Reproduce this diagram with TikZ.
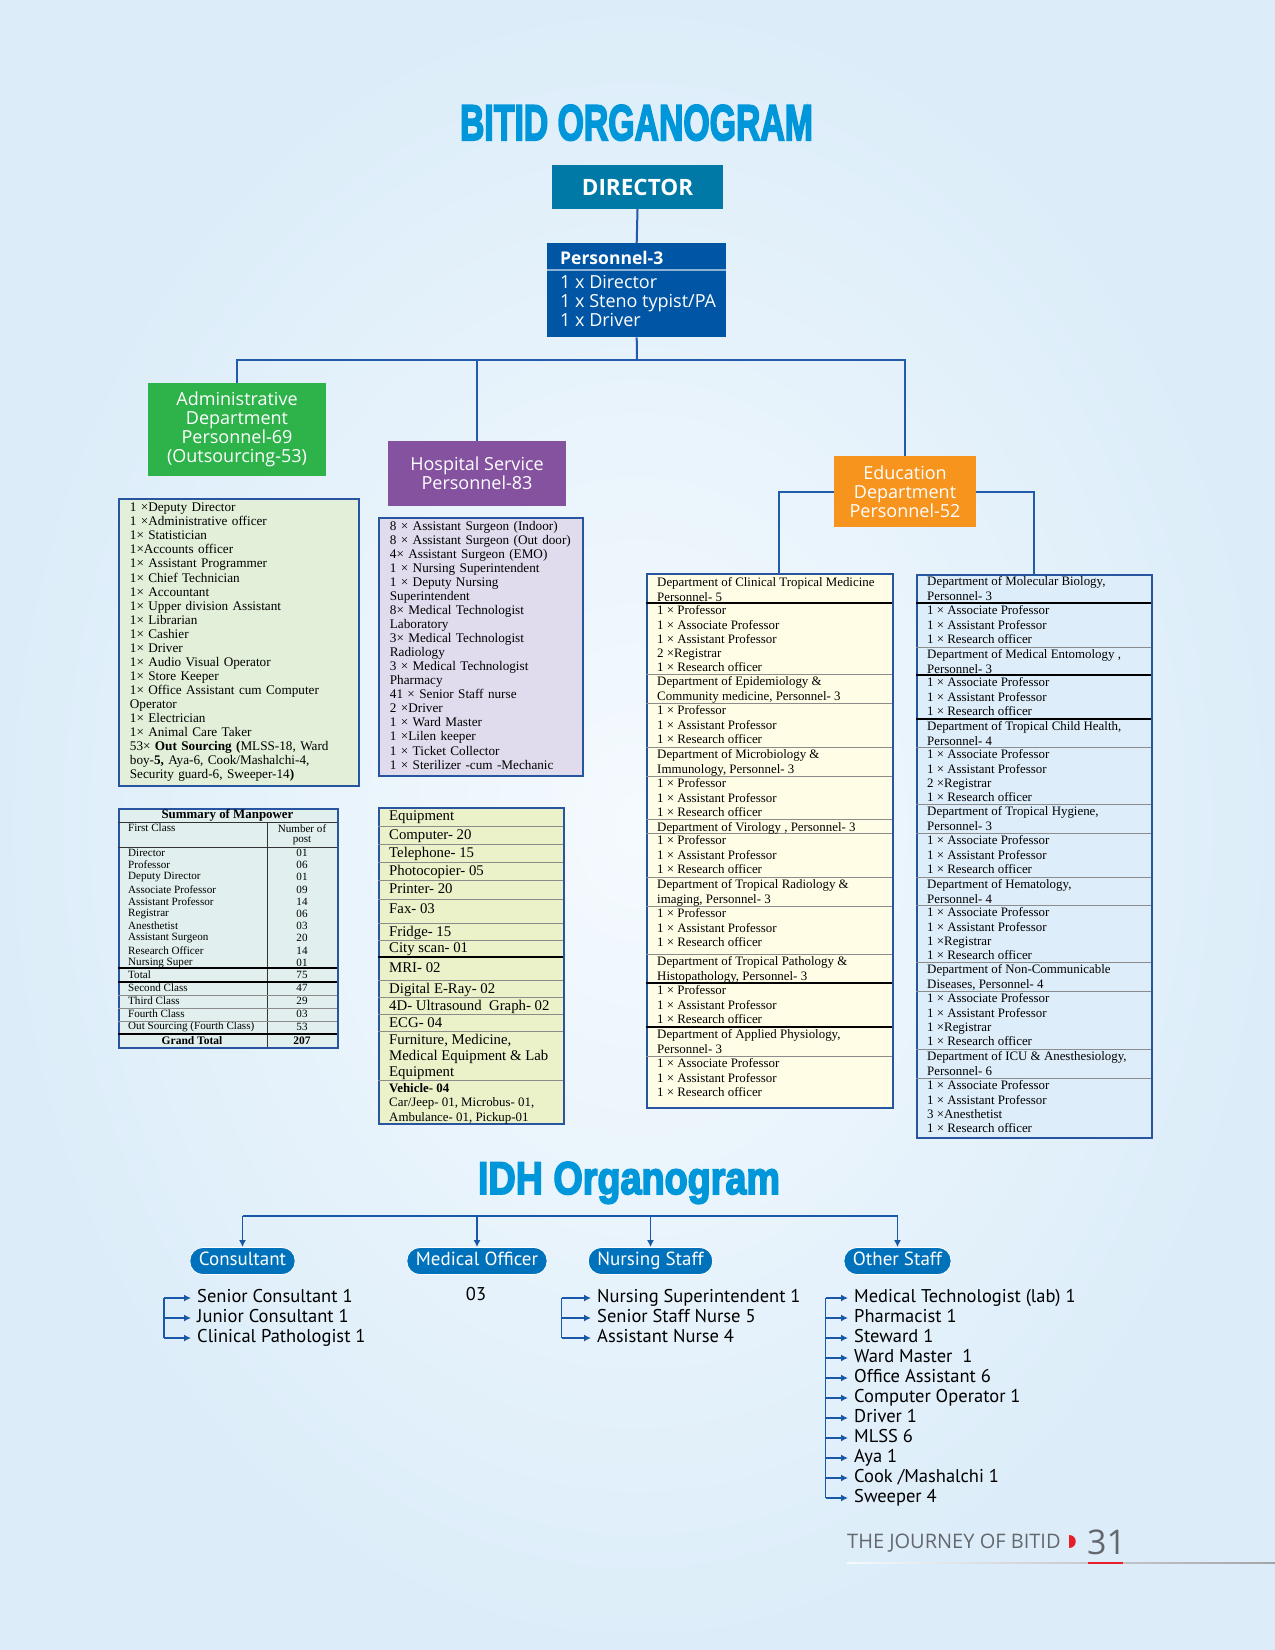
\documentclass[tikz,border=0pt]{standalone}
\usepackage{graphicx}
\usepackage{fontspec}
\setmainfont{Open Sans}
\newfontfamily\tnr{Liberation Serif}
\newfontfamily\ptsans{PT Sans}
\newfontfamily\headfont[BoldFeatures={FakeBold=4}]{Liberation Sans}
\usetikzlibrary{arrows.meta,positioning}
\definecolor{bgin}{RGB}{245,250,254}
\definecolor{bgout}{RGB}{220,237,249}
\definecolor{titleblue}{RGB}{0,150,218}
\definecolor{dirteal}{RGB}{0,121,166}
\definecolor{persblue}{RGB}{0,85,165}
\definecolor{admgreen}{RGB}{45,179,74}
\definecolor{hospurple}{RGB}{133,82,160}
\definecolor{eduorange}{RGB}{247,148,30}
\definecolor{linecol}{RGB}{32,92,170}
\definecolor{boxcol}{RGB}{40,85,160}
\definecolor{admfill}{RGB}{226,239,217}
\definecolor{hosfill}{RGB}{224,220,238}
\definecolor{sumfill}{RGB}{225,240,238}
\definecolor{eqfill}{RGB}{235,241,200}
\definecolor{clinfill}{RGB}{255,253,230}
\definecolor{molfill}{RGB}{222,237,250}
\definecolor{pillblue}{RGB}{0,114,188}
\definecolor{arrblue}{RGB}{25,88,168}
\definecolor{footgray}{RGB}{100,104,110}
\definecolor{footred}{RGB}{230,30,40}
\newcommand{\nl}{\\\strut}
\tikzset{
  orgline/.style={draw=linecol, line width=2pt},
  colbox/.style={inner sep=0pt, text=white, align=center, font=\fontsize{18}{19}\selectfont},
  listbox/.style={draw=boxcol, line width=1.8pt, anchor=north west, align=left, inner xsep=11pt, inner ysep=0pt, execute at begin node=\strut},
  tabbox/.style={draw=boxcol, line width=1.8pt, anchor=north west, inner sep=0pt},
  listtxt/.style={anchor=north west, inner sep=0pt, align=left, yshift=-2.5pt, execute at begin node=\strut, font=\tnr\fontsize{12.9}{14.3}\selectfont},
  rowtxt/.style={anchor=west, inner sep=0pt, font=\tnr\fontsize{14.8}{16}\selectfont},
  sumtxt/.style={anchor=west, inner sep=0pt, font=\tnr\fontsize{11.1}{12.2}\selectfont},
  seprule/.style={draw=black!45, line width=0.9pt},
  sepblack/.style={draw=black, line width=1.1pt},
  pill/.style={rounded corners=13pt, fill=pillblue, draw=white, line width=0.8pt, text=white, minimum height=27pt, inner xsep=9pt, text height=13pt, text depth=4pt, font=\ptsans\fontsize{19}{20}\selectfont},
  idhitem/.style={anchor=west, inner xsep=6pt, inner ysep=0pt, text height=12pt, text depth=4pt, font=\ptsans\fontsize{18.5}{20}\selectfont},
  idhline/.style={draw=arrblue, line width=1.8pt},
  idharr/.style={draw=arrblue, line width=1.8pt, -{Latex[length=7pt,width=7pt]}},
}
\begin{document}
\begin{tikzpicture}[x=1pt, y=-1pt]
\useasboundingbox (0,0) rectangle (1275,1650);
\shade[inner color=bgin, outer color=bgout] (0,0) rectangle (1275,1650);
% BITID tree
\node[anchor=base, inner sep=0, text=titleblue] (title) at (636.5,140) {\resizebox{353pt}{35pt}{\headfont\bfseries BITID ORGANOGRAM}};
\node[fill=dirteal, minimum width=171pt, minimum height=44pt, inner sep=0, text=white, font=\bfseries\fontsize{22.5}{24}\selectfont] (dir) at (637.5,187) {DIRECTOR};
\node[fill=persblue, minimum width=179pt, minimum height=94pt, anchor=north west, inner sep=0] (pers) at (547,243) {};
\node[anchor=west, text=white, inner sep=0, font=\bfseries\fontsize{17.5}{19}\selectfont] (pershead) at (560,258) {Personnel-3};
\draw[white!55!persblue, line width=1.5pt] (pers.west |- 0,270) -- (pers.east |- 0,270);
\node[anchor=north west, align=left, text=white, inner sep=0, font=\fontsize{18}{19}\selectfont, execute at begin node=\strut] (perslist) at (560,275) {1 x Director\nl 1 x Steno typist/PA\nl 1 x Driver};
\node[colbox, fill=admgreen, minimum width=178pt, minimum height=93pt] (adm) at (237,429.5) {Administrative\\Department\\Personnel-69\\(Outsourcing-53)};
\node[colbox, fill=hospurple, minimum width=178pt, minimum height=65pt] (hosp) at (477,473.5) {Hospital Service\\Personnel-83};
\node[colbox, fill=eduorange, minimum width=142pt, minimum height=71pt] (edu) at (905,491.5) {Education\\Department\\Personnel-52};
\coordinate (bus) at (637,360);
\draw[orgline] (dir.south) -- (pers.north);
\draw[orgline] (pers.south) -- (bus);
\draw[orgline] (adm.north) |- (bus) -| (edu.north);
\draw[orgline] (hosp.north) -- (hosp.north |- bus);
% Administrative list
\node[listbox, fill=admfill, text width=218pt, minimum height=287pt, font=\tnr\fontsize{13.2}{14.04}\selectfont] (admlist) at (118,498) {1 ×Deputy Director\nl 1 ×Administrative officer\nl 1× Statistician\nl 1×Accounts officer\nl 1× Assistant Programmer\nl 1× Chief Technician\nl 1× Accountant\nl 1× Upper division Assistant\nl 1× Librarian\nl 1× Cashier\nl 1× Driver\nl 1× Audio Visual Operator\nl 1× Store Keeper\nl 1× Office Assistant cum Computer\nl Operator\nl 1× Electrician\nl 1× Animal Care Taker\nl 53× \textbf{Out Sourcing (}MLSS-18, Ward\nl boy-\textbf{5,} Aya-6, Cook/Mashalchi-4,\nl Security guard-6, Sweeper-14\textbf{)}};
% Hospital list
\node[listbox, fill=hosfill, text width=182pt, minimum height=258pt, font=\tnr\fontsize{13.2}{14.04}\selectfont] (hoslist) at (378,517) {8 × Assistant Surgeon (Indoor)\nl 8 × Assistant Surgeon (Out door)\nl 4× Assistant Surgeon (EMO)\nl 1 × Nursing Superintendent\nl 1 × Deputy Nursing\nl Superintendent\nl 8× Medical Technologist\nl Laboratory\nl 3× Medical Technologist\nl Radiology\nl 3 × Medical Technologist\nl Pharmacy\nl 41 × Senior Staff nurse\nl 2 ×Driver\nl 1 × Ward Master\nl 1 ×Lilen keeper\nl 1 × Ticket Collector\nl 1 × Sterilizer -cum -Mechanic};
% Summary of Manpower
\node[tabbox, fill=sumfill, minimum width=219pt, minimum height=239pt] (sumtab) at (118,808) {};
\node[inner sep=0, font=\tnr\bfseries\fontsize{12.9}{14}\selectfont] (sumhead) at (227.5,815.5) {Summary of Manpower};
\draw[black!80, line width=1pt] (118,822) -- (337,822);
\draw[black!80, line width=1pt] (118,847) -- (337,847);
\draw[black!80, line width=1pt] (267,822) -- (267,1047);
\node[sumtxt] (sumfirst) at (128,828) {First Class};
\node[sumtxt, anchor=center] (sumnum) at (302,829) {Number of};
\node[sumtxt, anchor=center] (sumpost) at (302,841) {post};
\foreach \y/\a/\b [count=\i] in {853/Director/01, 865/Professor/06, 877/Deputy Director/01, 890/Associate Professor/09, 902/Assistant Professor/14, 914/Registrar/06, 926/Anesthetist/03, 938/Assistant Surgeon/20, 951/Research Officer/14, 963/Nursing Super/01, 975/Total/75, 988/Second Class/47, 1001/Third Class/29, 1014/Fourth Class/03, 1027/Out Sourcing (Fourth Class)/53}{
  \node[sumtxt] (sa\i) at (128,\y) {\a};
  \node[sumtxt, anchor=center] (sb\i) at (302,\y) {\b};
}
\foreach \y in {968,982,1034} \draw[sepblack] (118,\y) -- (337,\y);
\foreach \y in {995,1008,1021} \draw[seprule] (118,\y) -- (337,\y);
\node[inner sep=0, font=\tnr\bfseries\fontsize{11.5}{12.2}\selectfont] (sumgt) at (192,1041) {Grand Total};
\node[inner sep=0, font=\tnr\bfseries\fontsize{11.5}{12.2}\selectfont] (sumgtn) at (302,1041) {207};
% Equipment
\node[tabbox, fill=eqfill, minimum width=185pt, minimum height=316pt] (eqtab) at (378,807) {};
\foreach \y in {826,844,862,880,899,923,940,980,997,1014,1031,1080} \draw[seprule] (378,\y) -- (563,\y);
\draw[sepblack] (378,957) -- (563,957);
\foreach \y/\t [count=\i] in {817/Equipment, 836/Computer- 20, 854/Telephone- 15, 872/Photocopier- 05, 889/Printer- 20, 909/Fax- 03, 933/Fridge- 15, 949/City scan- 01, 968/MRI- 02, 990/Digital E-Ray- 02, 1007/4D- Ultrasound\ \ Graph- 02, 1023/ECG- 04}
  \node[rowtxt] (eq\i) at (389,\y) {\t};
\node[rowtxt, anchor=north west, align=left] (eqfurn) at (389,1034) {Furniture, Medicine,\\Medical Equipment \& Lab\\Equipment};
\node[anchor=north west, align=left, inner sep=0, font=\tnr\fontsize{12.9}{14.5}\selectfont] (eqveh) at (389,1083) {\textbf{Vehicle- 04}\\Car/Jeep- 01, Microbus- 01,\\Ambulance- 01, Pickup-01};
% Education columns
\node[tabbox, fill=clinfill, minimum width=246pt, minimum height=534pt] (clin) at (646,573) {};
\node[tabbox, fill=molfill, minimum width=235pt, minimum height=563pt] (mol) at (916,574) {};
\draw[orgline] (edu.west) -| ([xshift=9pt]clin.north);
\draw[orgline] (edu.east) -| (mol.north);
\foreach \y in {674,703,747,776,819,833,877,906,954,1056} \draw[seprule] (646,\y) -- (892,\y);
\foreach \y in {603,983,1027} \draw[sepblack] (646,\y) -- (892,\y);
\foreach \y in {647,747,804,833,877,905,962,991,1049,1078} \draw[seprule] (916,\y) -- (1151,\y);
\foreach \y in {603,675,719} \draw[sepblack] (916,\y) -- (1151,\y);
\node[listtxt] (cl1h) at (657,575) {Department of Clinical Tropical Medicine\nl Personnel- 5};
\node[listtxt] (cl1i) at (657,603) {1 × Professor\nl 1 × Associate Professor\nl 1 × Assistant Professor\nl 2 ×Registrar\nl 1 × Research officer};
\node[listtxt] (cl2h) at (657,674) {Department of Epidemiology \&\nl Community medicine, Personnel- 3};
\node[listtxt] (cl2i) at (657,703) {1 × Professor\nl 1 × Assistant Professor\nl 1 × Research officer};
\node[listtxt] (cl3h) at (657,747) {Department of Microbiology \&\nl Immunology, Personnel- 3};
\node[listtxt] (cl3i) at (657,776) {1 × Professor\nl 1 × Assistant Professor\nl 1 × Research officer};
\node[listtxt] (cl4h) at (657,819) {Department of Virology , Personnel- 3};
\node[listtxt] (cl4i) at (657,833) {1 × Professor\nl 1 × Assistant Professor\nl 1 × Research officer};
\node[listtxt] (cl5h) at (657,877) {Department of Tropical Radiology \&\nl imaging, Personnel- 3};
\node[listtxt] (cl5i) at (657,906) {1 × Professor\nl 1 × Assistant Professor\nl 1 × Research officer};
\node[listtxt] (cl6h) at (657,954) {Department of Tropical Pathology \&\nl Histopathology, Personnel- 3};
\node[listtxt] (cl6i) at (657,983) {1 × Professor\nl 1 × Assistant Professor\nl 1 × Research officer};
\node[listtxt] (cl7h) at (657,1027) {Department of Applied Physiology,\nl Personnel- 3};
\node[listtxt] (cl7i) at (657,1056) {1 × Associate Professor\nl 1 × Assistant Professor\nl 1 × Research officer};
\node[listtxt] (mo1h) at (927,574) {Department of Molecular Biology,\nl Personnel- 3};
\node[listtxt] (mo1i) at (927,603) {1 × Associate Professor\nl 1 × Assistant Professor\nl 1 × Research officer};
\node[listtxt] (mo2h) at (927,647) {Department of Medical Entomology ,\nl Personnel- 3};
\node[listtxt] (mo2i) at (927,675) {1 × Associate Professor\nl 1 × Assistant Professor\nl 1 × Research officer};
\node[listtxt] (mo3h) at (927,719) {Department of Tropical Child Health,\nl Personnel- 4};
\node[listtxt] (mo3i) at (927,747) {1 × Associate Professor\nl 1 × Assistant Professor\nl 2 ×Registrar\nl 1 × Research officer};
\node[listtxt] (mo4h) at (927,804) {Department of Tropical Hygiene,\nl Personnel- 3};
\node[listtxt] (mo4i) at (927,833) {1 × Associate Professor\nl 1 × Assistant Professor\nl 1 × Research officer};
\node[listtxt] (mo5h) at (927,877) {Department of Hematology,\nl Personnel- 4};
\node[listtxt] (mo5i) at (927,905) {1 × Associate Professor\nl 1 × Assistant Professor\nl 1 ×Registrar\nl 1 × Research officer};
\node[listtxt] (mo6h) at (927,962) {Department of Non-Communicable\nl Diseases, Personnel- 4};
\node[listtxt] (mo6i) at (927,991) {1 × Associate Professor\nl 1 × Assistant Professor\nl 1 ×Registrar\nl 1 × Research officer};
\node[listtxt] (mo7h) at (927,1049) {Department of ICU \& Anesthesiology,\nl Personnel- 6};
\node[listtxt] (mo7i) at (927,1078) {1 × Associate Professor\nl 1 × Assistant Professor\nl 3 ×Anesthetist\nl 1 × Research officer};
% IDH tree
\node[anchor=base, inner sep=0, text=titleblue] (idhtitle) at (629,1194) {\resizebox{302pt}{32pt}{\headfont\bfseries IDH Organogram}};
\node[pill] (cons) at (242.5,1261) {Consultant};
\node[pill] (medo) at (477,1261) {Medical Officer};
\node[pill] (nurs) at (650.5,1261) {Nursing Staff};
\node[pill] (oth) at (897.5,1261) {Other Staff};
\coordinate (idhbus) at (575,1216);
\draw[idhline] (cons.north |- idhbus) -- (oth.north |- idhbus);
\foreach \n in {cons,medo,nurs,oth} \draw[idharr] (\n.north |- idhbus) -- (\n.north);
\node[idhitem] (c1) at (191,1298) {Senior Consultant 1};
\node[idhitem] (c2) at (191,1318) {Junior Consultant 1};
\node[idhitem] (c3) at (191,1338) {Clinical Pathologist 1};
\node[idhitem, anchor=center] (m1) at (476,1296) {03};
\node[idhitem] (n1) at (591,1298) {Nursing Superintendent 1};
\node[idhitem] (n2) at (591,1318) {Senior Staff Nurse 5};
\node[idhitem] (n3) at (591,1338) {Assistant Nurse 4};
\foreach \t [count=\i] in {Medical Technologist (lab) 1, Pharmacist 1, Steward 1, Ward Master\ \ 1, Office Assistant 6, Computer Operator 1, Driver 1, MLSS 6, Aya 1, Cook /Mashalchi 1, Sweeper 4}
  \node[idhitem] (o\i) at (848,1278+20*\i) {\t};
\coordinate (cbar) at (164,1298);
\coordinate (nbar) at (561.5,1298);
\coordinate (obar) at (825.5,1298);
\draw[idhline] (c1.west -| cbar) -- (c3.west -| cbar);
\draw[idhline] (n1.west -| nbar) -- (n3.west -| nbar);
\draw[idhline] (o1.west -| obar) -- (o11.west -| obar);
\foreach \i in {1,2,3} {
  \draw[idharr] (c\i.west -| cbar) -- (c\i.west);
  \draw[idharr] (n\i.west -| nbar) -- (n\i.west);
}
\foreach \i in {1,...,11} \draw[idharr] (o\i.west -| obar) -- (o\i.west);
% footer
\node[anchor=base west, inner sep=0, text=footgray, font=\fontsize{20}{22}\selectfont] (foot) at (847,1548) {THE JOURNEY OF BITID};
\fill[footred] (1069,1535) .. controls (1078,1535) and (1078,1548) .. (1069,1548) -- cycle;
\node[anchor=base west, inner sep=0, text=footgray, font=\fontsize{34}{36}\selectfont] (pageno) at (1087,1554) {31};
\shade[left color=bgin, right color=footgray!60] (847,1562.5) rectangle (1275,1563.5);
\draw[footred, line width=1.5pt] (1088,1563) -- (1123,1563);
\end{tikzpicture}
\end{document}
